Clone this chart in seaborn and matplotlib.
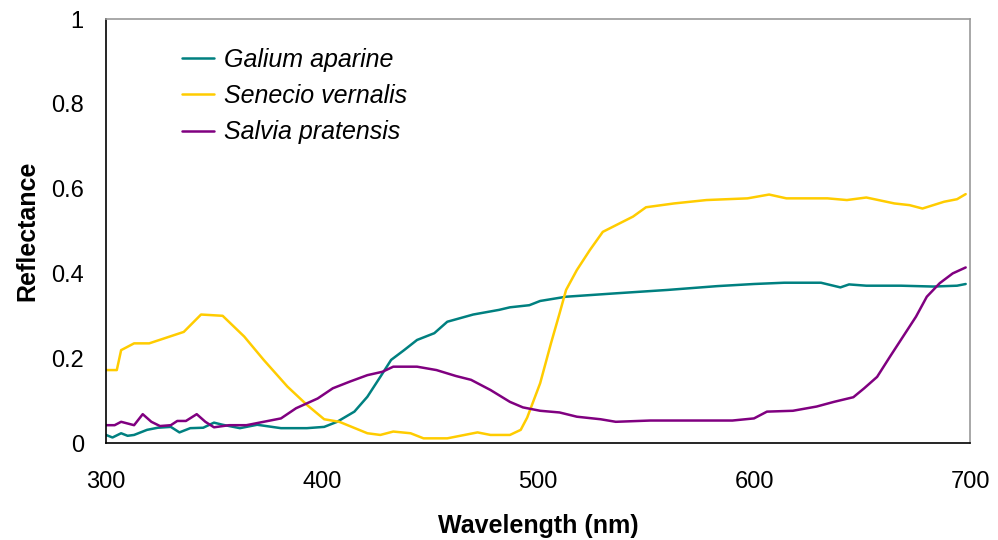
import matplotlib
matplotlib.use("Agg")
import matplotlib.pyplot as plt
import seaborn as sns
import pandas as pd

series_names = ["Galium aparine", "Senecio vernalis", "Salvia pratensis"]
series_colors = ["#008080", "#FFCC00", "#800080"]

galium_wl = [300, 303, 307, 310, 313, 319, 324, 330, 334, 339, 345, 350, 354, 362, 370, 381,
             393, 401, 407, 415, 421, 427, 432, 438, 444, 452, 458, 470, 482, 487, 496, 501,
             513, 536, 560, 583, 600, 614, 631, 640, 644, 652, 668, 683, 694, 698]
galium_refl = [0.019, 0.013, 0.023, 0.017, 0.019, 0.031, 0.036, 0.038, 0.025, 0.035, 0.036, 0.048,
               0.043, 0.035, 0.043, 0.035, 0.035, 0.038, 0.050, 0.074, 0.109, 0.156, 0.196, 0.219,
               0.243, 0.259, 0.286, 0.303, 0.314, 0.320, 0.325, 0.335, 0.345, 0.353, 0.361, 0.370,
               0.375, 0.378, 0.378, 0.367, 0.374, 0.371, 0.371, 0.369, 0.371, 0.375]

senecio_wl = [300, 305, 307, 313, 320, 336, 344, 354, 364, 373, 384, 393, 401, 408, 421, 427,
              433, 441, 447, 458, 472, 478, 487, 492, 495, 501, 506, 510, 513, 518, 524, 530,
              544, 550, 563, 578, 597, 607, 615, 634, 643, 652, 665, 672, 678, 688, 694, 698]
senecio_refl = [0.172, 0.172, 0.219, 0.235, 0.235, 0.262, 0.303, 0.300, 0.251, 0.196, 0.133, 0.090,
                0.056, 0.050, 0.023, 0.019, 0.027, 0.023, 0.011, 0.011, 0.025, 0.019, 0.019, 0.031,
                0.060, 0.141, 0.235, 0.306, 0.361, 0.408, 0.455, 0.498, 0.534, 0.556, 0.565, 0.573,
                0.577, 0.586, 0.577, 0.577, 0.573, 0.579, 0.565, 0.561, 0.553, 0.569, 0.575, 0.587]

salvia_wl = [300, 304, 307, 313, 317, 321, 325, 330, 333, 337, 342, 346, 350, 357, 365, 373,
             381, 388, 398, 405, 413, 421, 428, 433, 444, 453, 462, 469, 478, 487, 493, 501,
             510, 518, 529, 536, 552, 575, 590, 600, 606, 618, 629, 637, 646, 651, 657, 663,
             669, 675, 680, 686, 692, 698]
salvia_refl = [0.042, 0.042, 0.050, 0.042, 0.068, 0.050, 0.040, 0.042, 0.052, 0.052, 0.068, 0.050,
               0.037, 0.042, 0.042, 0.050, 0.058, 0.082, 0.105, 0.129, 0.145, 0.160, 0.168, 0.180,
               0.180, 0.172, 0.158, 0.149, 0.125, 0.097, 0.084, 0.076, 0.072, 0.062, 0.056, 0.050,
               0.053, 0.053, 0.053, 0.058, 0.074, 0.076, 0.086, 0.097, 0.108, 0.129, 0.156, 0.204,
               0.251, 0.298, 0.345, 0.377, 0.400, 0.414]

x_ticks = [300, 400, 500, 600, 700]
y_ticks = [0, 0.2, 0.4, 0.6, 0.8, 1]
y_tick_labels = ["0", "0.2", "0.4", "0.6", "0.8", "1"]

frames = []
for name, wl, refl in zip(series_names,
                          [galium_wl, senecio_wl, salvia_wl],
                          [galium_refl, senecio_refl, salvia_refl]):
    frames.append(pd.DataFrame({"Wavelength": wl, "Reflectance": refl, "Species": name}))
df = pd.concat(frames, ignore_index=True)

sns.set_theme(style="white")
plt.rcParams["font.family"] = ["Liberation Sans", "DejaVu Sans"]
plt.rcParams["text.color"] = "black"
plt.rcParams["axes.labelcolor"] = "black"
plt.rcParams["xtick.color"] = "black"
plt.rcParams["ytick.color"] = "black"

fig = plt.figure(figsize=(9.98, 5.40), dpi=100)
ax = fig.add_axes([106 / 998, 1 - 443 / 540, (970 - 106) / 998, (443 - 19) / 540])

sns.lineplot(data=df, x="Wavelength", y="Reflectance", hue="Species",
             hue_order=series_names, palette=series_colors, estimator=None,
             sort=True, linewidth=1.8, ax=ax)

ax.set_xlim(300, 700)
ax.set_ylim(0, 1)
ax.set_xticks(x_ticks)
ax.set_xticklabels([str(t) for t in x_ticks])
ax.set_yticks(y_ticks)
ax.set_yticklabels(y_tick_labels)

ax.tick_params(axis="both", direction="in", length=6, width=1, colors="black",
               labelsize=17)
ax.tick_params(axis="x", pad=20)
ax.tick_params(axis="y", pad=16)

for side in ["left", "bottom"]:
    ax.spines[side].set_color("black")
    ax.spines[side].set_linewidth(1.2)
for side in ["top", "right"]:
    ax.spines[side].set_color("#9a9a9a")
    ax.spines[side].set_linewidth(1.2)

ax.set_xlabel("Wavelength (nm)", fontsize=18, fontweight="bold", labelpad=15, color="black")
ax.set_ylabel("Reflectance", fontsize=18, fontweight="bold", labelpad=8, color="black")

leg = ax.legend(loc="upper left", bbox_to_anchor=(0.0614, 0.985), frameon=False,
                prop={"style": "italic", "size": 18},
                handlelength=1.3, handletextpad=0.38, labelspacing=0.49)
for t in leg.get_texts():
    t.set_color("black")

fig.savefig("out.png", dpi=100)
